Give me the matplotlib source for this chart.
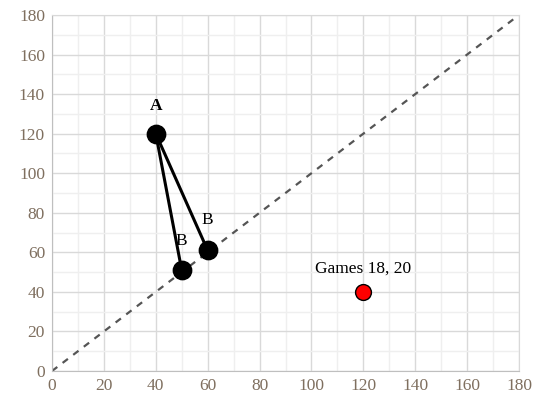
import matplotlib
matplotlib.use("Agg")
import matplotlib.pyplot as plt
import numpy as np

plt.rcParams['font.family'] = ['Liberation Serif', 'DejaVu Serif']

a_point = (40, 120)
b_points_x = [50, 60]
b_points_y = [51, 61]
red_x = [120]
red_y = [40]
diag = [0, 180]
ticks = list(range(0, 181, 20))

fig = plt.figure(figsize=(5.37, 4.04), dpi=100)
ax = fig.add_axes([52/537, 1 - 371/404, (519-52)/537, (371-15)/404])

ax.set_xlim(0, 180)
ax.set_ylim(0, 180)
ax.set_xticks(ticks)
ax.set_yticks(ticks)
ax.set_xticks(range(10, 180, 20), minor=True)
ax.set_yticks(range(10, 180, 20), minor=True)
ax.grid(True, which='major', color='#d9d9d9', linewidth=1.0)
ax.grid(True, which='minor', color='#efefef', linewidth=1.0)
ax.set_axisbelow(True)
for s in ax.spines.values():
    s.set_color('#d9d9d9')
ax.spines['left'].set_color('#bfbfbf')
ax.spines['bottom'].set_color('#bfbfbf')
ax.tick_params(which='both', length=0, labelsize=12.5, labelcolor='#7f6f5f', pad=5)

ax.plot(diag, diag, linestyle=(0, (3, 3)), color='#555555', linewidth=1.6, zorder=2)

for bx, by in zip(b_points_x, b_points_y):
    ax.plot([a_point[0], bx], [a_point[1], by], color='black', linewidth=2.2, zorder=3)

ax.scatter([a_point[0]] + b_points_x, [a_point[1]] + b_points_y, s=175, color='black', zorder=4)
ax.scatter(red_x, red_y, s=130, color='#ff0000', edgecolor='black', linewidth=1, zorder=4)

def label(x, y, text, dy, **kw):
    ax.annotate(text, (x, y), xytext=(0, dy), textcoords='offset pixels',
                ha='center', va='center', fontsize=12.5, **kw)

label(a_point[0], a_point[1], 'A', 28, fontweight='bold')
label(b_points_x[0], b_points_y[0], 'B', 29)
label(b_points_x[1], b_points_y[1], 'B', 30)
label(red_x[0], red_y[0], 'Games 18, 20', 23)

fig.savefig('out.png', dpi=100)
